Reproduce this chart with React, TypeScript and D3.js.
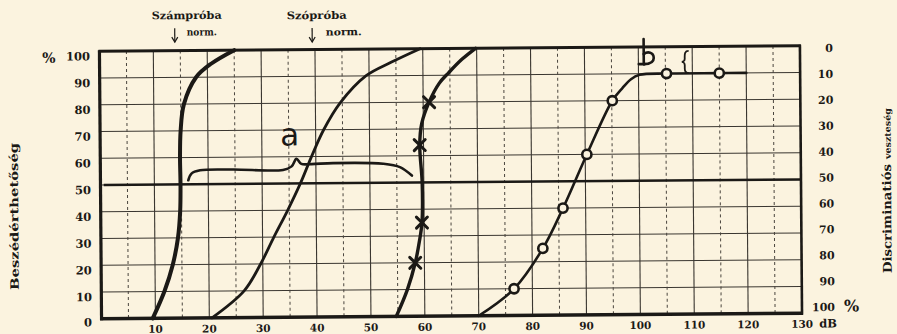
import React from 'react';
import * as d3 from 'd3';

const W = 897;
const H = 334;

// Axis ticks
const leftTicks = [0, 10, 20, 30, 40, 50, 60, 70, 80, 90, 100];
const rightTicks = [0, 10, 20, 30, 40, 50, 60, 70, 80, 90, 100];
const bottomTicks = [10, 20, 30, 40, 50, 60, 70, 80, 90, 100, 110, 120, 130];
const solidGridX = [10, 20, 30, 40, 50, 60, 70, 80, 90, 100, 110, 120];
const dashedGridX = [5, 15, 25, 35, 45, 55, 65, 75, 85, 95, 105, 115, 125];
const gridY = [10, 20, 30, 40, 50, 60, 70, 80, 90];

// Számpróba (number test) curve
const numDb = [9.5, 11.7, 13.3, 14.3, 14.75, 14.85, 14.8, 14.95, 15.6, 17.9, 20.7, 25.0];
const numPct = [0, 10, 20, 30, 40, 50, 60, 70, 80, 90, 95, 100];

// Szópróba (word test) curve
const wordDb = [20.5, 26.5, 29.6, 32.1, 34.7, 37.1, 39.2, 41.5, 44.6, 49.4, 54.1, 59.5];
const wordPct = [0, 10, 20, 30, 40, 50, 60, 70, 80, 90, 95, 100];

// Curve with × markers
const crossDb = [54.7, 56.8, 58.3, 59.1, 59.6, 59.7, 59.3, 59.7, 61.1, 63.0, 64.8, 67.3, 69.8];
const crossPct = [0, 10, 20, 28, 35, 50, 64, 72, 80, 87, 91, 96, 100];
const crossMarkDb = [58.3, 59.6, 59.3, 61.1];
const crossMarkPct = [20, 35, 64, 80];

// Curve with o markers
const circDb = [70, 76.6, 82, 85.8, 90.3, 95.1, 97.0, 98.6, 100.2, 105.2, 115, 120];
const circPct = [0, 10, 25, 40, 60, 80, 84.7, 88, 89.6, 90, 90, 90];
const circMarkDb = [76.6, 82, 85.8, 90.3, 95.1, 105.2, 115];
const circMarkPct = [10, 25, 40, 60, 80, 90, 90];

// Hand-drawn brace "a"
const braceDb = [16.3, 16.9, 18.5, 24.6, 33.9, 35.5, 36.4, 37.3, 39.2, 43.2, 52.5, 55.6, 57.8];
const bracePct = [51.5, 54.0, 55.2, 55.4, 55.1, 56.4, 59.2, 57.3, 57.2, 57.5, 57.1, 55.8, 52.6];

const BG = '#fbf3df';
const INK = '#1b1916';
const SERIF = "'DejaVu Serif', 'Liberation Serif', serif";

export default function App() {
  const x = d3.scaleLinear().domain([0, 130]).range([100.5, 801]);
  const y = d3.scaleLinear().domain([0, 100]).range([316, 48.5]);
  const pts = (a: number[], b: number[]) => a.map((v, i) => [v, b[i]] as [number, number]);
  const line = d3
    .line<[number, number]>()
    .x((d) => x(d[0]))
    .y((d) => y(d[1]))
    .curve(d3.curveCatmullRom.alpha(0.5));

  const x0 = x(0);
  const x1 = x(130);
  const yTop = y(100);
  const yBot = y(0);

  // anchors for hand annotations
  const bx = x(101.0);
  const by = y(93.6);
  const cbx = x(108.6);
  const cby = y(94.3);

  return (
    <svg width={W} height={H} style={{ position: 'absolute', left: 0, top: 0, display: 'block' }}>
      <rect width={W} height={H} fill={BG} />
      <g transform="rotate(-0.45 450 185)">
        {/* grid */}
        {gridY.map((v) => (
          <line key={'gy' + v} x1={x0} x2={x1} y1={y(v)} y2={y(v)} stroke="#3a3630" strokeWidth={1.1} />
        ))}
        {solidGridX.map((v) => (
          <line key={'gx' + v} x1={x(v)} x2={x(v)} y1={yTop} y2={yBot} stroke="#3a3630" strokeWidth={1.1} />
        ))}
        {dashedGridX.map((v) => (
          <line
            key={'dx' + v}
            x1={x(v)}
            x2={x(v)}
            y1={yTop}
            y2={yBot}
            stroke="#4a453e"
            strokeWidth={1}
            strokeDasharray="3,3"
          />
        ))}
        {/* 50% thick line */}
        <line x1={x(0.6)} x2={x1} y1={y(50)} y2={y(50)} stroke={INK} strokeWidth={2.6} />
        {/* frame */}
        <line x1={x0 - 1} x2={x1 + 1} y1={yTop} y2={yTop} stroke={INK} strokeWidth={3} />
        <line x1={x0 - 1.5} x2={x1 + 1} y1={yBot} y2={yBot} stroke={INK} strokeWidth={3.5} />
        <line x1={x0} x2={x0} y1={yTop - 1} y2={yBot + 1.5} stroke={INK} strokeWidth={3.2} />
        <line x1={x1} x2={x1} y1={yTop - 1} y2={yBot + 1.5} stroke={INK} strokeWidth={2.6} />

        {/* curves */}
        <path d={line(pts(numDb, numPct)) || ''} fill="none" stroke={INK} strokeWidth={4} strokeLinecap="round" />
        <path d={line(pts(wordDb, wordPct)) || ''} fill="none" stroke={INK} strokeWidth={2.8} strokeLinecap="round" />
        <path d={line(pts(crossDb, crossPct)) || ''} fill="none" stroke={INK} strokeWidth={3.4} strokeLinecap="round" />
        <path d={line(pts(circDb, circPct)) || ''} fill="none" stroke={INK} strokeWidth={2.6} strokeLinecap="round" />

        {/* × markers */}
        {crossMarkDb.map((d, i) => {
          const cx = x(d);
          const cy = y(crossMarkPct[i]);
          const s = 5.5;
          return (
            <g key={'cm' + i} stroke={INK} strokeWidth={3} strokeLinecap="round">
              <line x1={cx - s} y1={cy - s} x2={cx + s} y2={cy + s} />
              <line x1={cx - s} y1={cy + s} x2={cx + s} y2={cy - s} />
            </g>
          );
        })}
        {/* o markers */}
        {circMarkDb.map((d, i) => (
          <circle key={'om' + i} cx={x(d)} cy={y(circMarkPct[i])} r={4.6} fill={BG} stroke={INK} strokeWidth={2.6} />
        ))}

        {/* brace a */}
        <path d={line(pts(braceDb, bracePct)) || ''} fill="none" stroke={INK} strokeWidth={2.6} strokeLinecap="round" />
        <text
          x={x(35.2)}
          y={y(64.2)}
          textAnchor="middle"
          fontFamily="'DejaVu Sans', sans-serif"
          fontSize={31}
          fill={INK}
        >
          a
        </text>

        {/* b */}
        <g fill="none" stroke={INK} strokeWidth={2.6} strokeLinecap="round" strokeLinejoin="round">
          <path d={`M${bx},${by - 25} L${bx},${by}`} />
          <path d={`M${bx - 5},${by} L${bx + 1},${by}`} />
          <path d={`M${bx},${by - 10} C${bx + 4},${by - 13} ${bx + 10},${by - 12} ${bx + 10},${by - 6} C${bx + 10},${by - 1} ${bx + 5},${by} ${bx},${by}`} />
        </g>
        {/* small brace */}
        <path
          d={`M${cbx + 4},${cby - 11} C${cbx},${cby - 11} ${cbx},${cby - 8} ${cbx},${cby - 5} L${cbx},${cby - 3} C${cbx},${cby - 1} ${cbx - 2},${cby} ${cbx - 3},${cby} C${cbx - 2},${cby} ${cbx},${cby + 1} ${cbx},${cby + 3} L${cbx},${cby + 7} C${cbx},${cby + 10} ${cbx + 1},${cby + 11} ${cbx + 4},${cby + 11}`}
          fill="none"
          stroke={INK}
          strokeWidth={1.8}
        />

        {/* left tick labels */}
        {leftTicks.map((v) => (
          <text
            key={'lt' + v}
            x={91}
            y={y(v) + (v === 0 ? 3.5 : 5)}
            textAnchor="end"
            dominantBaseline="central"
            fontFamily={SERIF}
            fontWeight="bold"
            fontSize={11.5}
            fill={INK}
          >
            {v}
          </text>
        ))}
        <text x={50} y={yTop + 6} textAnchor="middle" dominantBaseline="central" fontFamily={SERIF} fontWeight="bold" fontSize={14} fill={INK}>
          %
        </text>

        {/* right tick labels */}
        {rightTicks.map((v) => (
          <text
            key={'rt' + v}
            x={834}
            y={y(100 - v) + 3 - 0.085 * v}
            textAnchor="end"
            dominantBaseline="central"
            fontFamily={SERIF}
            fontWeight="bold"
            fontSize={11}
            fill={INK}
          >
            {v}
          </text>
        ))}
        <text x={843} y={y(0) - 7} dominantBaseline="central" fontFamily={SERIF} fontWeight="bold" fontSize={16} fill={INK}>
          %
        </text>

        {/* bottom tick labels */}
        {bottomTicks.map((v) => (
          <text
            key={'bt' + v}
            x={x(v)}
            y={yBot + 10.5}
            textAnchor="middle"
            dominantBaseline="central"
            fontFamily={SERIF}
            fontWeight="bold"
            fontSize={10.5}
            fill={INK}
          >
            {v}
          </text>
        ))}
        <text x={818} y={yBot + 10.5} dominantBaseline="central" fontFamily={SERIF} fontWeight="bold" fontSize={11.5} fill={INK}>
          dB
        </text>

        {/* top annotations */}
        <text x={188} y={13} textAnchor="middle" dominantBaseline="central" fontFamily={SERIF} fontWeight="bold" fontSize={10.5} textLength={70} lengthAdjust="spacingAndGlyphs" fill={INK}>
          Számpróba
        </text>
        <text x={188} y={30} dominantBaseline="central" fontFamily={SERIF} fontWeight="bold" fontSize={10} textLength={30} lengthAdjust="spacingAndGlyphs" fill={INK}>
          norm.
        </text>
        <g stroke={INK} strokeWidth={1.2} fill="none">
          <line x1={x(14)} x2={x(14)} y1={26} y2={40} />
          <path d={`M${x(14) - 3},${35} L${x(14)},${40} L${x(14) + 3},${35}`} />
        </g>
        <text x={318} y={14} textAnchor="middle" dominantBaseline="central" fontFamily={SERIF} fontWeight="bold" fontSize={10.5} textLength={60} lengthAdjust="spacingAndGlyphs" fill={INK}>
          Szópróba
        </text>
        <text x={327} y={31} dominantBaseline="central" fontFamily={SERIF} fontWeight="bold" fontSize={10} textLength={36} lengthAdjust="spacingAndGlyphs" fill={INK}>
          norm.
        </text>
        <g stroke={INK} strokeWidth={1.2} fill="none">
          <line x1={x(39.5)} x2={x(39.5)} y1={27} y2={41} />
          <path d={`M${x(39.5) - 3},${36} L${x(39.5)},${41} L${x(39.5) + 3},${36}`} />
        </g>

        {/* axis titles */}
        <text
          transform="translate(18,213) rotate(-90)"
          textAnchor="middle"
          fontFamily={SERIF}
          fontWeight="bold"
          fontSize={11.5}
          textLength={147}
          lengthAdjust="spacingAndGlyphs"
          fill={INK}
        >
          Beszédérthetőség
        </text>
        <text
          transform="translate(891,222) rotate(-90)"
          textAnchor="middle"
          fontFamily={SERIF}
          fontWeight="bold"
          fontSize={12}
          textLength={109}
          lengthAdjust="spacingAndGlyphs"
          fill={INK}
        >
          Discriminatiós
        </text>
        <text
          transform="translate(891,137) rotate(-90)"
          textAnchor="middle"
          fontFamily={SERIF}
          fontWeight="bold"
          fontSize={8.5}
          textLength={51}
          lengthAdjust="spacingAndGlyphs"
          fill={INK}
        >
          veszteség
        </text>
      </g>
    </svg>
  );
}
